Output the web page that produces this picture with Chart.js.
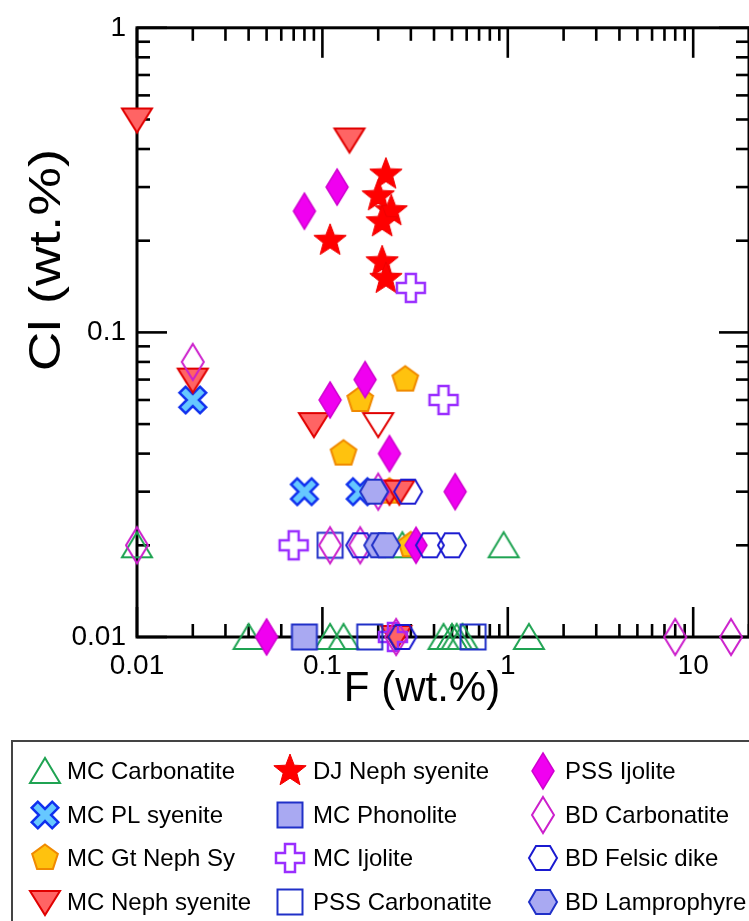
<!DOCTYPE html>
<html><head><meta charset="utf-8">
<script src="https://cdn.jsdelivr.net/npm/chart.js@4/dist/chart.umd.min.js"></script>
<style>
html,body{margin:0;padding:0;overflow:hidden;background:#fff;width:749px;height:921px}
#wrap{position:relative;width:762px;height:921px}
</style></head>
<body><div id="wrap"><canvas id="c" width="762" height="921"></canvas></div>
<script>
// ---- data (F wt.% on x, Cl wt.% on y) ----
const seriesNames = ['MC Carbonatite','MC PL syenite','MC Gt Neph Sy','MC Neph syenite','DJ Neph syenite','MC Phonolite','MC Ijolite','PSS Carbonatite','PSS Ijolite','BD Carbonatite','BD Felsic dike','BD Lamprophyre'];

const mcCarbonatiteF = [0.01, 0.27, 0.95, 0.04, 0.11, 0.13, 0.45, 0.5, 0.53, 0.57, 1.3];
const mcCarbonatiteCl = [0.02, 0.02, 0.02, 0.01, 0.01, 0.01, 0.01, 0.01, 0.01, 0.01, 0.01];

const mcPLSyeniteF = [0.02, 0.08, 0.16];
const mcPLSyeniteCl = [0.06, 0.03, 0.03];

const mcGtNephSyF = [0.28, 0.16, 0.13, 0.23, 0.3];
const mcGtNephSyCl = [0.07, 0.06, 0.04, 0.03, 0.02];

const mcNephSyeniteF = [0.01, 0.14, 0.02, 0.09, 0.2, 0.23, 0.26, 0.25];
const mcNephSyeniteCl = [0.5, 0.43, 0.07, 0.05, 0.05, 0.03, 0.03, 0.01];
const mcNephSyeniteOpen = [false, false, false, false, true, false, false, false];

const djNephSyeniteF = [0.22, 0.2, 0.235, 0.21, 0.11, 0.21, 0.22];
const djNephSyeniteCl = [0.33, 0.28, 0.25, 0.23, 0.2, 0.17, 0.15];

const mcPhonoliteF = [0.08];
const mcPhonoliteCl = [0.01];

const mcIjoliteF = [0.3, 0.45, 0.07, 0.24];
const mcIjoliteCl = [0.14, 0.06, 0.02, 0.01];

const pssCarbonatiteF = [0.11, 0.18, 0.65];
const pssCarbonatiteCl = [0.02, 0.01, 0.01];

const pssIjoliteF = [0.08, 0.12, 0.17, 0.11, 0.23, 0.52, 0.32, 0.05];
const pssIjoliteCl = [0.25, 0.3, 0.07, 0.06, 0.04, 0.03, 0.02, 0.01];

const bdCarbonatiteF = [0.02, 0.01, 0.2, 0.11, 0.16, 0.25, 8, 16];
const bdCarbonatiteCl = [0.08, 0.02, 0.03, 0.02, 0.02, 0.01, 0.01, 0.01];

const bdFelsicDikeF = [0.29, 0.16, 0.38, 0.5, 0.27];
const bdFelsicDikeCl = [0.03, 0.02, 0.02, 0.02, 0.01];

const bdLamprophyreF = [0.19, 0.2, 0.22];
const bdLamprophyreCl = [0.03, 0.02, 0.02];

const xTickLabels = [0.01, 0.1, 1, 10];
const yTickLabels = [0.01, 0.1, 1];
const xTitle = 'F (wt.%)';
const yTitle = 'Cl (wt.%)';

// ---- marker images ----
function makeMarker(draw){
  const c=document.createElement('canvas'); c.width=46; c.height=46;
  const g=c.getContext('2d'); g.translate(23,23); g.lineJoin='miter'; draw(g); return c;
}
function poly(g,pts,fill,stroke,lw){
  g.beginPath(); pts.forEach((p,i)=> i? g.lineTo(p[0],p[1]) : g.moveTo(p[0],p[1])); g.closePath();
  if(fill){g.fillStyle=fill; g.fill();}
  if(stroke){g.strokeStyle=stroke; g.lineWidth=lw; g.stroke();}
}
function crossPts(t,a,rot){
  const b=[[t,a],[t,t],[a,t],[a,-t],[t,-t],[t,-a],[-t,-a],[-t,-t],[-a,-t],[-a,t],[-t,t],[-t,a]];
  const c=Math.cos(rot), s=Math.sin(rot);
  return b.map(([x,y])=>[x*c-y*s, x*s+y*c]);
}
function regPts(n,r,start){const p=[];for(let i=0;i<n;i++){const a=start+i*2*Math.PI/n;p.push([r*Math.cos(a),r*Math.sin(a)]);}return p;}
function starPts(R,r){const p=[];for(let i=0;i<10;i++){const a=-Math.PI/2+i*Math.PI/5;const rr=i%2?r:R;p.push([rr*Math.cos(a),rr*Math.sin(a)]);}return p;}
const hexPts=[[-14,0],[-7,-12],[7,-12],[14,0],[7,12],[-7,12]];
const diaPts=[[0,-18],[11,0],[0,18],[-11,0]];

const M = {
  triUp: makeMarker(g=>poly(g,[[-15,12],[15,12],[0,-13]],null,'#1fa352',2)),
  xMark: makeMarker(g=>poly(g,crossPts(4.3,14.5,Math.PI/4),'#66c8ff','#1030ee',2.5)),
  penta: makeMarker(g=>poly(g,regPts(5,13.5,-Math.PI/2),'#ffc20e','#f08a00',2)),
  triDn: makeMarker(g=>poly(g,[[-15,-11],[15,-11],[0,13]],'#ff6464','#e00000',2)),
  triDnOpen: makeMarker(g=>poly(g,[[-15,-11],[15,-11],[0,13]],null,'#e00000',2)),
  star: makeMarker(g=>poly(g,starPts(17,7.2),'#ff0000','#ee0000',1)),
  sqFill: makeMarker(g=>poly(g,[[-12.5,-12.5],[12.5,-12.5],[12.5,12.5],[-12.5,12.5]],'#a9a9f2','#2030c8',2)),
  plus: makeMarker(g=>poly(g,crossPts(5,14,0),null,'#9a2eff',2.5)),
  sqOpen: makeMarker(g=>poly(g,[[-12.5,-12.5],[12.5,-12.5],[12.5,12.5],[-12.5,12.5]],null,'#2030c8',2)),
  diaFill: makeMarker(g=>poly(g,diaPts,'#f000f0','#d000d0',1.5)),
  diaOpen: makeMarker(g=>poly(g,diaPts,null,'#cc20cc',2)),
  hexOpen: makeMarker(g=>poly(g,hexPts,null,'#1a1ad0',2)),
  hexFill: makeMarker(g=>poly(g,hexPts,'#a9a9f2','#2030c8',2))
};

const pairs = [
  [mcCarbonatiteF, mcCarbonatiteCl, M.triUp],
  [mcPLSyeniteF, mcPLSyeniteCl, M.xMark],
  [mcGtNephSyF, mcGtNephSyCl, M.penta],
  [mcNephSyeniteF, mcNephSyeniteCl, mcNephSyeniteOpen.map(o=>o?M.triDnOpen:M.triDn)],
  [djNephSyeniteF, djNephSyeniteCl, M.star],
  [mcPhonoliteF, mcPhonoliteCl, M.sqFill],
  [mcIjoliteF, mcIjoliteCl, M.plus],
  [pssCarbonatiteF, pssCarbonatiteCl, M.sqOpen],
  [pssIjoliteF, pssIjoliteCl, M.diaFill],
  [bdCarbonatiteF, bdCarbonatiteCl, M.diaOpen],
  [bdFelsicDikeF, bdFelsicDikeCl, M.hexOpen],
  [bdLamprophyreF, bdLamprophyreCl, M.hexFill]
];
const legendIcons = [M.triUp,M.xMark,M.penta,M.triDn,M.star,M.sqFill,M.plus,M.sqOpen,M.diaFill,M.diaOpen,M.hexOpen,M.hexFill];

const datasets = pairs.map(([xs,ys,style],i)=>({
  label: seriesNames[i],
  data: xs.map((x,j)=>({x:x,y:ys[j]})),
  pointStyle: style,
  pointRadius: 12,
  clip: false,
  order: 100 - i
}));

const FONT = "'Liberation Sans', Arial, sans-serif";

const framePlugin = {
  id:'frame',
  beforeDatasetsDraw(chart){
    const ctx=chart.ctx, a=chart.chartArea, xs=chart.scales.x, ys=chart.scales.y;
    ctx.save();
    ctx.strokeStyle='#000'; ctx.lineCap='butt';
    ctx.lineWidth=2.6;
    for(const d of [0.01,0.1,1,10]){
      for(let m=1;m<=9;m++){
        const v=d*m; if(v>20.0001) break;
        const p=xs.getPixelForValue(v); const L = m===1?30:13;
        ctx.beginPath(); ctx.moveTo(p,a.bottom); ctx.lineTo(p,a.bottom-L); ctx.stroke();
        ctx.beginPath(); ctx.moveTo(p,a.top); ctx.lineTo(p,a.top+L); ctx.stroke();
      }
    }
    for(const d of [0.01,0.1,1]){
      for(let m=1;m<=9;m++){
        const v=d*m; if(v>1.0001) break;
        const p=ys.getPixelForValue(v); const L = m===1?30:13;
        ctx.beginPath(); ctx.moveTo(a.left,p); ctx.lineTo(a.left+L,p); ctx.stroke();
        ctx.beginPath(); ctx.moveTo(a.right,p); ctx.lineTo(a.right-L,p); ctx.stroke();
      }
    }
    ctx.lineWidth=3;
    ctx.strokeRect(a.left,a.top,a.right-a.left,a.bottom-a.top);
    // axis titles
    ctx.fillStyle='#000'; ctx.textAlign='center'; ctx.textBaseline='alphabetic';
    ctx.font='42px '+FONT;
    ctx.fillText(xTitle, 422, 701);
    ctx.save();
    ctx.translate(60,260); ctx.rotate(-Math.PI/2); ctx.scale(1.22,1);
    ctx.font='45px '+FONT;
    ctx.fillText(yTitle, 0, 0);
    ctx.restore();
    ctx.restore();
  }
};

const legendPlugin = {
  id:'boxLegend',
  afterDraw(chart){
    const ctx=chart.ctx;
    ctx.save();
    ctx.strokeStyle='#444'; ctx.lineWidth=2;
    ctx.strokeRect(12,741,760,200);
    const colIcon=[45,290,543], colText=[67,313,565], rowY=[771,815,858,902];
    ctx.font='24px '+FONT; ctx.fillStyle='#000'; ctx.textBaseline='middle'; ctx.textAlign='left';
    seriesNames.forEach((n,i)=>{
      const c=Math.floor(i/4), r=i%4;
      const ic=legendIcons[i];
      ctx.drawImage(ic, colIcon[c]-ic.width/2, rowY[r]-ic.height/2);
      ctx.fillText(n, colText[c], rowY[r]+1);
    });
    ctx.restore();
  }
};

new Chart(document.getElementById('c'), {
  type:'scatter',
  data:{datasets},
  options:{
    responsive:false, animation:false, events:[],
    layout:{padding:{top:22,right:11,bottom:181,left:0}},
    plugins:{legend:{display:false},tooltip:{enabled:false}},
    scales:{
      x:{type:'logarithmic',min:0.01,max:20,position:'bottom',
        grid:{display:false,drawTicks:false}, border:{display:false},
        afterBuildTicks:s=>{s.ticks=xTickLabels.map(v=>({value:v}));},
        afterFit:s=>{s.height=103;},
        ticks:{autoSkip:false,maxRotation:0,padding:12,color:'#000',font:{family:FONT,size:28},callback:v=>String(v)},
        title:{display:false}
      },
      y:{type:'logarithmic',min:0.01,max:1,position:'left',
        grid:{display:false,drawTicks:false}, border:{display:false},
        afterBuildTicks:s=>{s.ticks=yTickLabels.map(v=>({value:v}));},
        afterFit:s=>{s.width=137;},
        ticks:{autoSkip:false,padding:11,color:'#000',font:{family:FONT,size:28},callback:v=>String(v)},
        title:{display:false}
      }
    }
  },
  plugins:[framePlugin, legendPlugin]
});
</script>
</body></html>
